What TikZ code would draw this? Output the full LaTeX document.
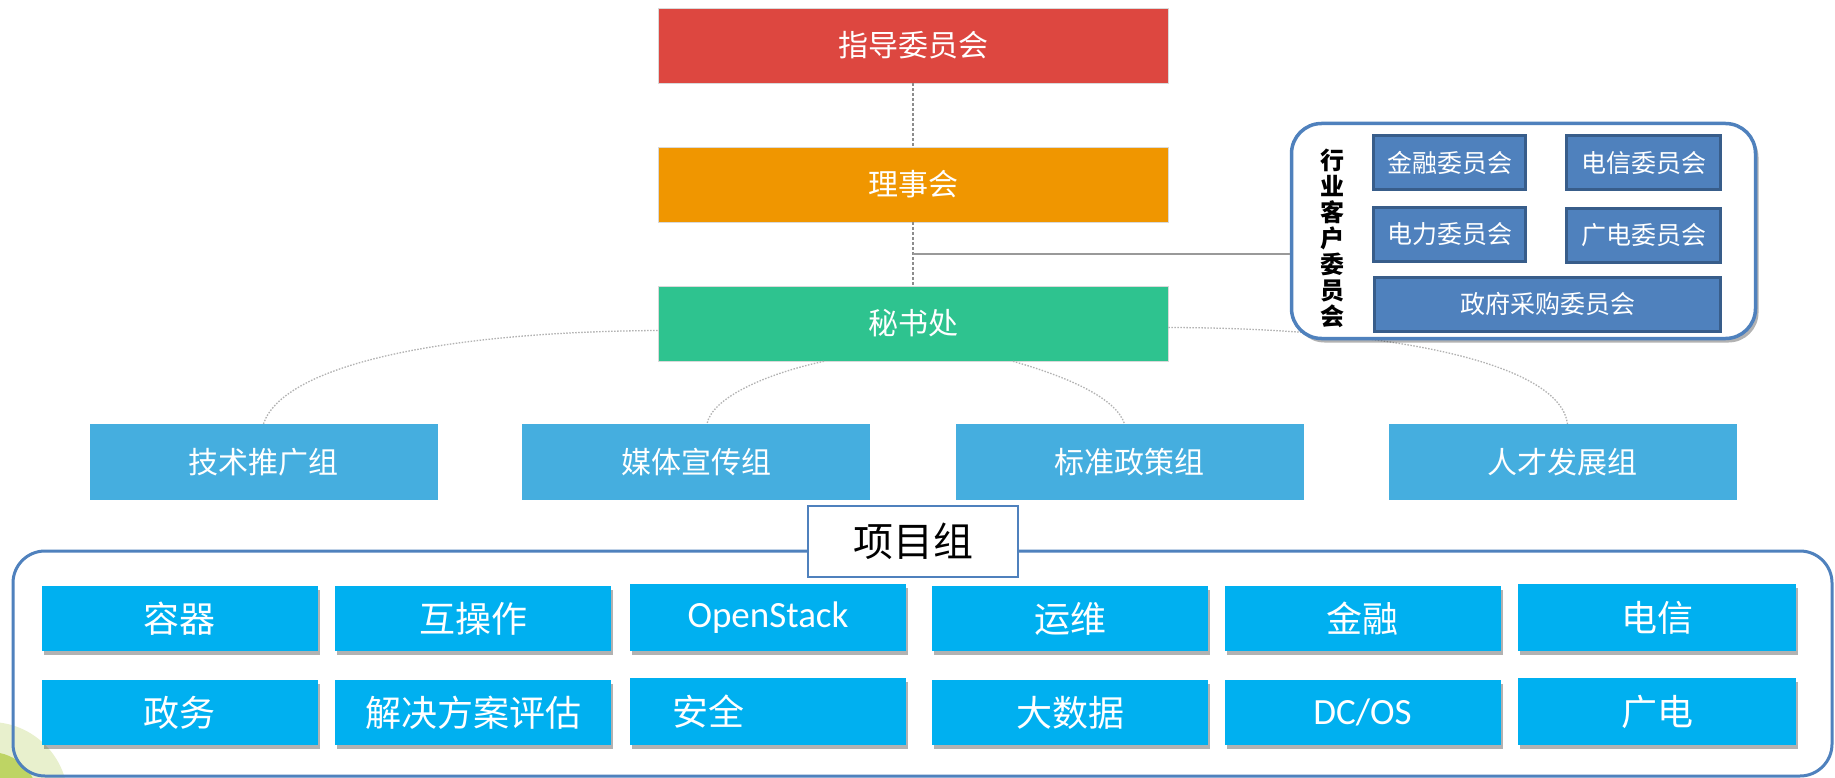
\documentclass[tikz,border=0pt]{standalone}
\usepackage{fontspec}
\setmainfont{Carlito}
\newfontfamily\cjk{Noto Sans CJK SC}
\usetikzlibrary{calc,shadows}
\definecolor{cred}{RGB}{221,71,64}
\definecolor{corange}{RGB}{240,150,0}
\definecolor{cgreen}{RGB}{46,195,143}
\definecolor{cgrp}{RGB}{69,174,223}
\definecolor{ccyan}{RGB}{0,176,240}
\definecolor{cblue}{RGB}{79,129,189}
\definecolor{cdark}{RGB}{56,93,138}
\definecolor{blobA}{RGB}{232,240,205}
\definecolor{blobB}{RGB}{190,212,100}
\tikzset{
  topbox/.style={fill=#1, draw=black!15, line width=0.6pt, minimum width=510pt, minimum height=75pt,
    inner sep=0pt, text=white, font=\cjk\fontsize{30}{30}\selectfont},
  grpbox/.style={fill=cgrp, minimum width=348pt, minimum height=76pt, inner sep=0pt,
    text=white, font=\cjk\fontsize{30}{30}\selectfont},
  pbox/.style={fill=ccyan, minimum width=276pt, minimum height=65pt, inner sep=0pt,
    text=white, font=\cjk\fontsize{36}{36}\selectfont,
    drop shadow={shadow xshift=2pt, shadow yshift=-4pt, fill=black, opacity=0.3}},
  pboxlat/.style={pbox, font=\fontsize{37}{37}\selectfont},
  cbox/.style={fill=cblue, draw=cdark, line width=3pt, minimum width=152pt, minimum height=54pt,
    inner sep=0pt, text=white, font=\cjk\fontsize{25}{25}\selectfont},
  vline/.style={draw=black!45, line width=1.2pt, dash pattern=on 3pt off 2pt},
  hline/.style={draw=black!40, line width=2pt},
  curve/.style={draw=black!30, line width=1.3pt, dash pattern=on 1.5pt off 1.5pt},
}
\begin{document}
\begin{tikzpicture}[x=1pt,y=-1pt]
\useasboundingbox (0,0) rectangle (1835,778);
\fill[white] (0,0) rectangle (1835,778);
% background blob
\begin{scope}
\clip (0,0) rectangle (1835,778);
\fill[blobA] (-10,800) circle (78);
\fill[blobB] (-10,800) circle (48);
\end{scope}

% top chain
\node[topbox=cred] (red) at (913,45.5) {指导委员会};
\node[topbox=corange] (orange) at (913,184.5) {理事会};
\node[topbox=cgreen] (green) at (913,323.5) {秘书处};

% groups
\node[grpbox] (g1) at (263.5,462) {技术推广组};
\node[grpbox] (g2) at (696,462) {媒体宣传组};
\node[grpbox] (g3) at (1129.5,462) {标准政策组};
\node[grpbox] (g4) at (1562.5,462) {人才发展组};

% dotted curves
\draw[curve] ($(green.west)+(0,7)$) .. controls (430,332) and (282,368) .. (g1.north);
\draw[curve] ($(green.south)+(-89,0)$) .. controls (765,374) and (712,398) .. ($(g2.north)+(11,0)$);
\draw[curve] ($(green.south)+(100,0)$) .. controls (1068,377) and (1116,398) .. ($(g3.north)+(-5,0)$);
\draw[curve] ($(green.east)+(0,4)$) .. controls (1400,328) and (1560,365) .. ($(g4.north)+(5,0)$);

% vertical connectors
\draw[vline] (red.south) -- (orange.north);
\draw[vline] (orange.south) -- (green.north);
\coordinate (j) at ($(orange.south)!0.5!(green.north)$);

% committee
\node[draw=cblue, fill=white, line width=3.5pt, rounded corners=30pt, minimum width=464pt, minimum height=215pt,
  drop shadow={shadow xshift=3pt, shadow yshift=-4pt, fill=black, opacity=0.3}] (comm) at (1523.5,231) {};
\draw[hline] (j) -- (j -| comm.west);
\node[font=\cjk\bfseries\fontsize{24}{26}\selectfont, align=center, inner sep=0pt] (vt) at (1332,238)
  {行\\业\\客\\户\\委\\员\\会};
\node[cbox] (c1) at (1449.5,163) {金融委员会};
\node[cbox, minimum width=154pt] (c2) at (1643.5,163) {电信委员会};
\node[cbox] (c3) at (1449.5,234.5) {电力委员会};
\node[cbox, minimum width=154pt] (c4) at (1643.5,235.5) {广电委员会};
\node[cbox, minimum width=346pt] (c5) at (1547.5,304) {政府采购委员会};

% project frame
\node[draw=cblue, line width=3pt, rounded corners=32pt, minimum width=1819pt, minimum height=225pt, inner sep=0pt]
  (pframe) at (922.5,663.5) {};
\node[draw=cblue, fill=white, line width=2.5pt, minimum width=210pt, minimum height=71pt, inner sep=0pt,
  font=\cjk\fontsize{40}{40}\selectfont] (ptitle) at (913,541.5) {项目组};

% project boxes
\node[pbox] (p1) at (179.5,618.5) {容器};
\node[pbox] (p2) at (473,618.5) {互操作};
\node[pboxlat, minimum height=67pt] (p3) at (768,617.5) {OpenStack};
\node[pbox] (p4) at (1070,618.5) {运维};
\node[pbox] (p5) at (1362.5,618.5) {金融};
\node[pbox, minimum width=278pt, minimum height=67pt] (p6) at (1657,617.5) {电信};
\node[pbox] (q1) at (179.5,712.5) {政务};
\node[pbox] (q2) at (473,712.5) {解决方案评估};
\node[pbox, minimum height=67pt, text width=276pt, align=left] (q3) at (768,711.5) {\hspace*{42pt}安全};
\node[pbox] (q4) at (1070,712.5) {大数据};
\node[pboxlat] (q5) at (1362.5,712.5) {DC/OS};
\node[pbox, minimum width=278pt, minimum height=67pt] (q6) at (1657,711.5) {广电};
\end{tikzpicture}
\end{document}
